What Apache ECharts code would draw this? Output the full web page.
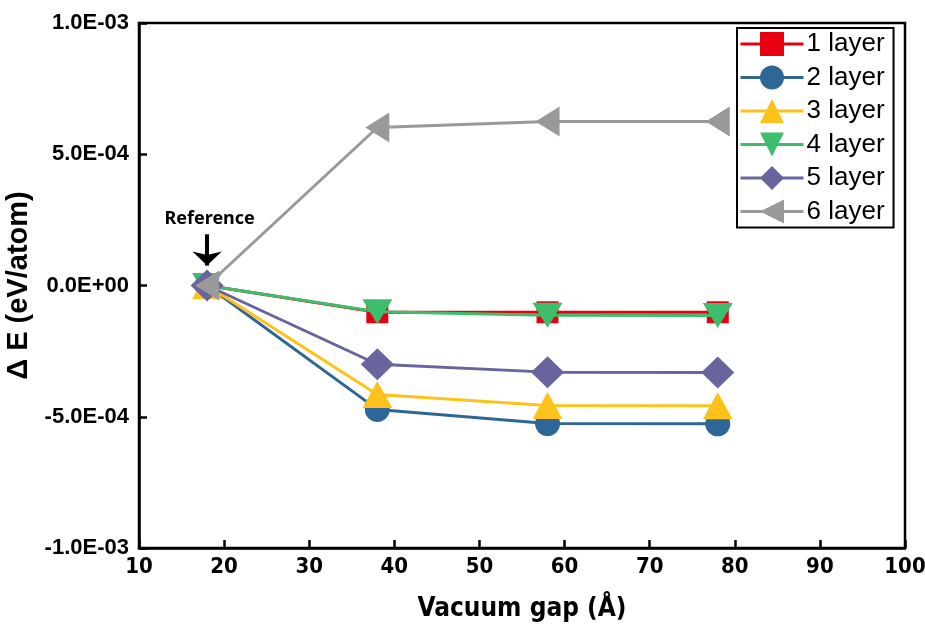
<!DOCTYPE html>
<html><head><meta charset="utf-8">
<script src="https://cdn.jsdelivr.net/npm/echarts@6/dist/echarts.min.js"></script>
<style>html,body{margin:0;padding:0;background:#fff}#c{width:925px;height:628px}</style>
</head><body><div id="c"></div>
<script>
const gaps = [18, 38, 58, 78];
const layerNames = ['1 layer', '2 layer', '3 layer', '4 layer', '5 layer', '6 layer'];
const layer1 = [0, -1.02e-4, -1.02e-4, -1.02e-4];
const layer2 = [0, -4.72e-4, -5.26e-4, -5.27e-4];
const layer3 = [0, -4.15e-4, -4.57e-4, -4.58e-4];
const layer4 = [0, -1.0e-4, -1.13e-4, -1.14e-4];
const layer5 = [0, -3.0e-4, -3.3e-4, -3.31e-4];
const layer6 = [0, 6.02e-4, 6.25e-4, 6.25e-4];
const yTickValues = [-1e-3, -5e-4, 0, 5e-4, 1e-3];
const yTickLabels = ['-1.0E-03', '-5.0E-04', '0.0E+00', '5.0E-04', '1.0E-03'];
const xTickLabels = ['10','20','30','40','50','60','70','80','90','100'];

const colors = ['#E60012', '#2F6698', '#FFC21A', '#3DBE6C', '#68649E', '#999999'];
const symbols = ['rect', 'circle', 'triangle', 'triangle', 'diamond', 'triangle'];
const symSizes = [22, 25, [30, 27], [30, 25], [33, 32], [30, 24]];
const symRot = [0, 0, 0, 180, 0, 90];
const allData = [layer1, layer2, layer3, layer4, layer5, layer6];

const series = allData.map((d, i) => ({
  name: layerNames[i],
  type: 'line',
  data: gaps.map((g, j) => [g, d[j]]),
  symbol: symbols[i],
  symbolSize: symSizes[i],
  symbolRotate: symRot[i],
  showAllSymbol: true,
  lineStyle: { color: colors[i], width: 3 },
  itemStyle: { color: colors[i] },
  z: 2 + i
}));
series.push({
  type: 'line', data: [], silent: true, z: 20,
  markLine: {
    silent: true, symbol: ['none', 'arrow'], symbolSize: [22, 14],
    lineStyle: { color: '#000', width: 4, type: 'solid' },
    label: { show: false },
    data: [[{ coord: [18, 1.95e-4] }, { coord: [18, 0.76e-4] }]]
  },
  markPoint: {
    silent: true, symbol: 'circle', symbolSize: 0,
    label: { show: true, position: 'inside', formatter: 'Reference', color: '#000',
      fontFamily: 'Noto Sans', fontWeight: 'bold', fontSize: 18 },
    data: [{ coord: [18.3, 2.55e-4] }]
  }
});

const narrow = '"DejaVu Sans Condensed", "Liberation Sans"';
const chart = echarts.init(document.getElementById('c'), null, { renderer: 'canvas' });
chart.setOption({
  animation: false,
  backgroundColor: '#fff',
  grid: { left: 139, top: 23, right: 20, bottom: 80, containLabel: false, outerBoundsMode: 'none',
    show: true, borderColor: '#000', borderWidth: 2.5, backgroundColor: 'transparent' },
  legend: {
    data: layerNames, left: 737, top: 28, orient: 'vertical',
    itemWidth: 63, itemHeight: 30, itemGap: 7.5,
    padding: [3, 9, 3, 2],
    borderColor: '#000', borderWidth: 2, backgroundColor: '#fff',
    lineStyle: { width: 3 },
    textStyle: { fontFamily: 'Liberation Sans', fontSize: 26, color: '#000', padding: [0, 0, 0, -2] }
  },
  xAxis: {
    type: 'value', min: 10, max: 100, interval: 10,
    name: 'Vacuum gap (Å)', nameLocation: 'middle', nameGap: 48,
    nameTextStyle: { fontFamily: narrow, fontWeight: 'bold', fontSize: 26, color: '#000' },
    axisLine: { onZero: false, lineStyle: { color: '#000', width: 2.5 } },
    axisTick: { inside: true, length: 8, lineStyle: { color: '#000', width: 2.5 } },
    axisLabel: { color: '#000', fontFamily: narrow, fontWeight: 'bold', fontSize: 22, margin: 8,
      formatter: v => xTickLabels[Math.round((v - 10) / 10)] },
    splitLine: { show: false }
  },
  yAxis: {
    type: 'value', min: -1e-3, max: 1e-3, interval: 5e-4,
    name: 'Δ E (eV/atom)', nameLocation: 'middle', nameGap: 106, nameRotate: 90,
    nameTextStyle: { fontFamily: 'Liberation Sans', fontWeight: 'bold', fontSize: 29, color: '#000' },
    axisLine: { onZero: false, lineStyle: { color: '#000', width: 2.5 } },
    axisTick: { inside: true, length: 8, lineStyle: { color: '#000', width: 2.5 } },
    axisLabel: { color: '#000', fontFamily: 'Liberation Sans', fontWeight: 'bold', fontSize: 22, margin: 10,
      formatter: v => { let k = 0, best = 1; yTickValues.forEach((t, i) => { const d = Math.abs(t - v); if (d < best) { best = d; k = i; } }); return yTickLabels[k]; } },
    splitLine: { show: false }
  },
  series: series
});
</script></body></html>
